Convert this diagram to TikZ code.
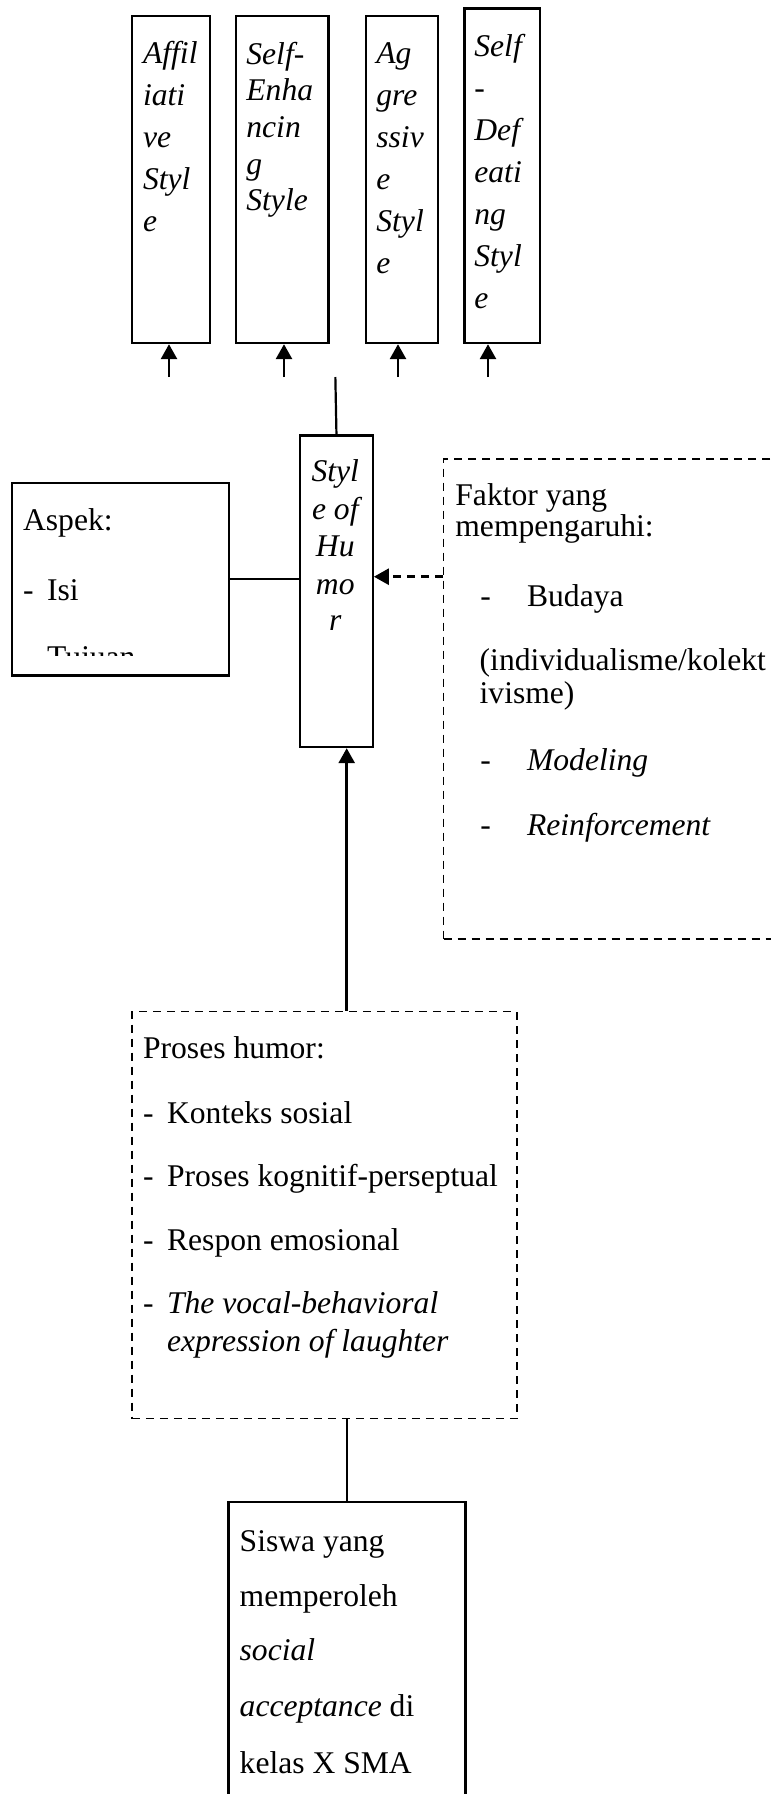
\documentclass[tikz,border=0pt]{standalone}
\usepackage{fontspec}
\setmainfont{Liberation Serif}
\usetikzlibrary{arrows.meta}
\begin{document}
\begin{tikzpicture}[x=0.5pt,y=-0.5pt,
  box/.style={draw, line width=1.1pt, inner sep=0pt, anchor=north west},
  dbox/.style={draw, line width=0.85pt, dash pattern=on 4pt off 3pt, inner sep=0pt, anchor=north west},
  t/.style={anchor=base west, inner sep=0pt, font=\fontsize{15.8}{19}\selectfont},
  ti/.style={anchor=base west, inner sep=0pt, font=\fontsize{15.8}{19}\selectfont\itshape},
  tc/.style={anchor=base, inner sep=0pt, font=\fontsize{15.8}{19}\selectfont\itshape},
  arr/.style={line width=1.4pt, -{Triangle[length=7.5pt,width=8pt]}},
  darr/.style={line width=1.4pt, dash pattern=on 4pt off 3pt, -{Triangle[length=7.5pt,width=8pt]}},
  ln/.style={line width=1.1pt}]
\path[use as bounding box, clip] (0,0) rectangle (771,1794);
\fill[white] (0,0) rectangle (771,1794);

% boxes
\node[box, minimum width=39pt, minimum height=163.5pt] (b1) at (130.7,15) {};
\node[box, minimum width=46.15pt, minimum height=163.5pt] (b2) at (235,15) {};
\node[box, minimum width=35.85pt, minimum height=163.5pt] (b3) at (365,15) {};
\node[box, minimum width=37.85pt, minimum height=167.35pt] (b4) at (463.3,7.3) {};
\node[box, minimum width=36.35pt, minimum height=155.85pt] (soh) at (299,434.3) {};
\node[box, minimum width=108.35pt, minimum height=96.15pt] (aspek) at (11,482) {};
\node[dbox, minimum width=178.65pt, minimum height=240pt] (faktor) at (442.7,458.3) {};
\node[dbox, minimum width=192.5pt, minimum height=203.5pt] (proses) at (131,1010.7) {};
\node[box, minimum width=118.5pt, minimum height=159.65pt] (siswa) at (227.3,1500.7) {};

% box 1
\node[ti] (b1a) at (142.7,63.3) {Affil};
\node[ti] (b1b) at (142.7,105.3) {iati};
\node[ti] (b1c) at (142.7,147.3) {ve};
\node[ti] (b1d) at (142.7,189.3) {Styl};
\node[ti] (b1e) at (142.7,231.3) {e};
% box 2
\node[ti] (b2a) at (246,64) {Self-};
\node[ti] (b2b) at (246,100.7) {Enha};
\node[ti] (b2c) at (246,137.3) {ncin};
\node[ti] (b2d) at (246,174) {g};
\node[ti] (b2e) at (246,210.7) {Style};
% box 3
\node[ti] (b3a) at (376,63.3) {Ag};
\node[ti] (b3b) at (376,105.3) {gre};
\node[ti] (b3c) at (376,147.3) {ssiv};
\node[ti] (b3d) at (376,189.3) {e};
\node[ti] (b3e) at (376,231.3) {Styl};
\node[ti] (b3f) at (376,273.3) {e};
% box 4
\node[ti] (b4a) at (474,56.7) {Self};
\node[ti] (b4b) at (474,98.7) {-};
\node[ti] (b4c) at (474,140.7) {Def};
\node[ti] (b4d) at (474,182.7) {eati};
\node[ti] (b4e) at (474,224.7) {ng};
\node[ti] (b4f) at (474,266.7) {Styl};
\node[ti] (b4g) at (474,308.7) {e};

% style of humor
\node[tc] (s1) at (335.3,481.7) {Styl};
\node[tc] (s2) at (335.3,519) {e of};
\node[tc] (s3) at (335.3,556.7) {Hu};
\node[tc] (s4) at (335.3,594) {mo};
\node[tc] (s5) at (335.3,630.7) {r};

% aspek
\node[t] (a1) at (22.7,530) {Aspek:};
\node[t] (a2d) at (22.7,600) {-};
\node[t] (a2) at (46.7,600) {Isi};
\begin{scope}
\clip (11,482) rectangle (227.7,655);
\node[t] (a3d) at (22.7,667.6) {-};
\node[t] (a3) at (46.7,667.6) {Tujuan};
\end{scope}

% faktor
\node[t] (f1) at (455,505) {Faktor yang};
\node[t] (f2) at (455,536.7) {mempengaruhi:};
\node[t] (f3d) at (480,606.7) {-};
\node[t] (f3) at (526.7,606.7) {Budaya};
\node[t] (f4) at (479.3,670) {(individualisme/kolekt};
\node[t] (f5) at (479.3,703.3) {ivisme)};
\node[t] (f6d) at (480,770) {-};
\node[ti] (f6) at (526.7,770) {Modeling};
\node[t] (f7d) at (480,835) {-};
\node[ti] (f7) at (526.7,835) {Reinforcement};

% proses
\node[t] (p1) at (142.7,1058.3) {Proses humor:};
\node[t] (p2d) at (142.7,1123.3) {-};
\node[t] (p2) at (166.7,1123.3) {Konteks sosial};
\node[t] (p3d) at (142.7,1186.7) {-};
\node[t] (p3) at (166.7,1186.7) {Proses kognitif-perseptual};
\node[t] (p4d) at (142.7,1250) {-};
\node[t] (p4) at (166.7,1250) {Respon emosional};
\node[t] (p5d) at (142.7,1313.3) {-};
\node[ti] (p5) at (166.7,1313.3) {The vocal-behavioral};
\node[ti] (p6) at (166.7,1351.7) {expression of laughter};

% siswa
\node[t] (q1) at (239.3,1551.7) {Siswa yang};
\node[t] (q2) at (239.3,1606.7) {memperoleh};
\node[ti] (q3) at (239.3,1660) {social};
\node[t] (q4) at (239.3,1716.7) {\textit{acceptance} di};
\node[t] (q5) at (239.3,1773.3) {kelas X SMA};

% connectors
\coordinate (t0) at (335.35,377);
\coordinate (t1) at (169,377);
\coordinate (t2) at (284,377);
\coordinate (t3) at (398,377);
\coordinate (t4) at (488,377);
\coordinate (cx) at (346.7,0);
\coordinate (dy) at (0,576.7);
\draw[ln] (soh.north) -- (t0);
\draw[arr] (t1) -- (t1 |- b1.south);
\draw[arr] (t2) -- (t2 |- b2.south);
\draw[arr] (t3) -- (t3 |- b3.south);
\draw[arr] (t4) -- (t4 |- b4.south);
\draw[ln] (aspek.east) -- (aspek.east -| soh.west);
\draw[darr] (faktor.west |- dy) -- (soh.east |- dy);
\draw[arr] (proses.north -| cx) -- (soh.south -| cx);
\draw[ln] (proses.south -| cx) -- (siswa.north -| cx);
\end{tikzpicture}
\end{document}
